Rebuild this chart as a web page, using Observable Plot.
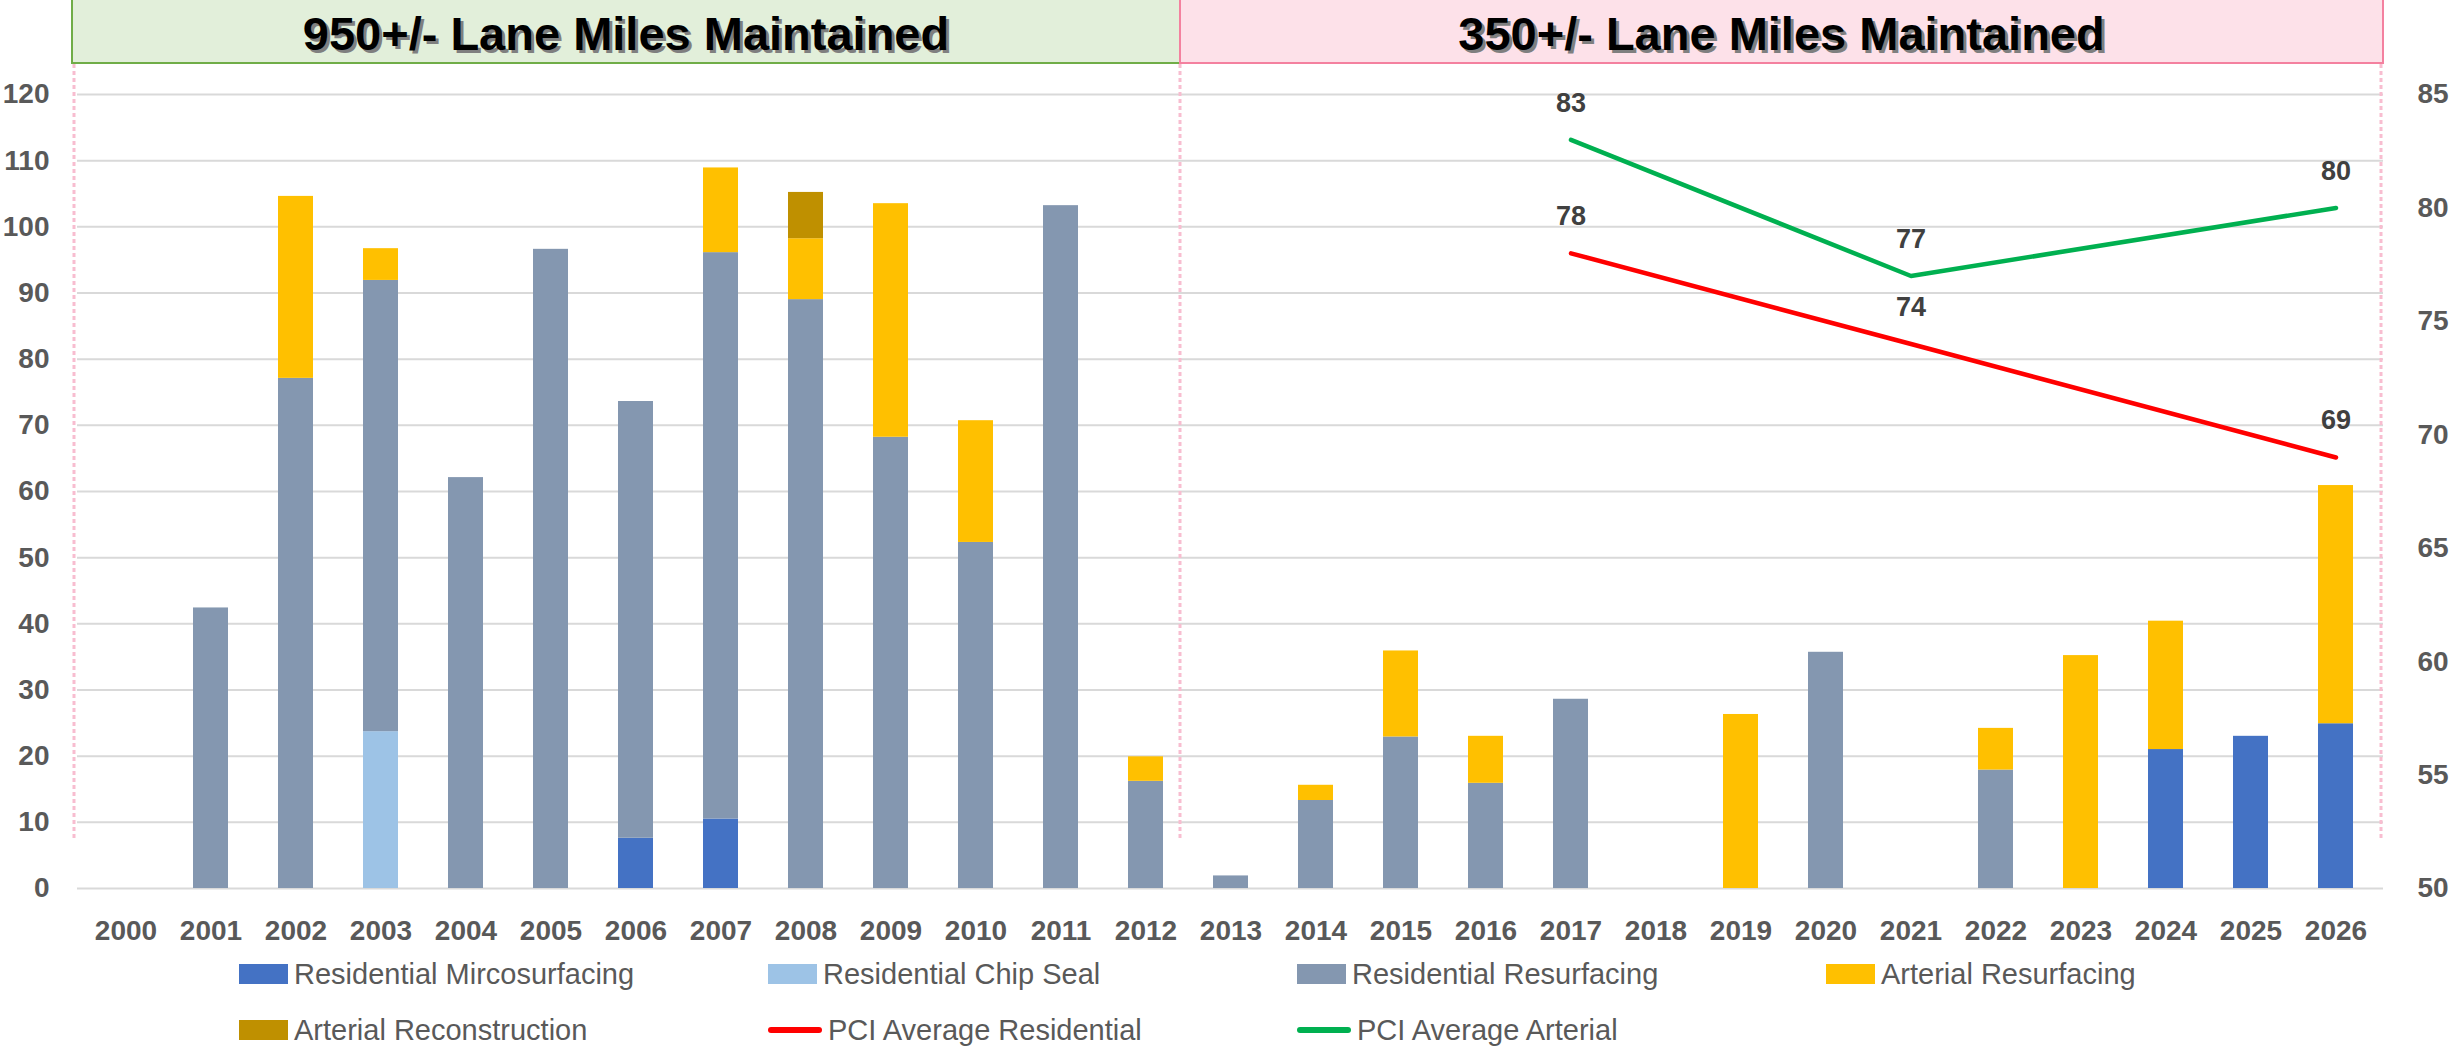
<!DOCTYPE html>
<html>
<head>
<meta charset="utf-8">
<script src="https://cdn.jsdelivr.net/npm/d3@7"></script>
<script src="https://cdn.jsdelivr.net/npm/@observablehq/plot@0.6"></script>
<style>
html, body { margin: 0; padding: 0; background: #fff; width: 2458px; height: 1053px; overflow: hidden; }
#wrap { position: relative; width: 2458px; height: 1053px; font-family: "Liberation Sans", Arial, sans-serif; }
#chart svg { display: block; }
#legend { position: absolute; left: 0; top: 946px; display: grid; grid-template-columns: repeat(4, 529px); grid-auto-rows: 56px; padding-left: 239px; }
.item { display: flex; align-items: center; gap: 6px; font-size: 29px; color: #595959; white-space: nowrap; }
.sw { width: 49px; height: 20px; flex: none; }
.ln { width: 54px; height: 6px; border-radius: 3px; flex: none; }
</style>
</head>
<body>
<div id="wrap"><div id="chart"></div><div id="legend"></div></div>
<script>
// ---------- data ----------
const years = ["2000","2001","2002","2003","2004","2005","2006","2007","2008","2009","2010","2011","2012",
  "2013","2014","2015","2016","2017","2018","2019","2020","2021","2022","2023","2024","2025","2026"];
const resMicrosurfacing = [0,0,0,0,0,0,7.6,10.5,0,0,0,0,0,0,0,0,0,0,0,0,0,0,0,0,21.0,23.0,24.9];
const resChipSeal       = [0,0,0,23.7,0,0,0,0,0,0,0,0,0,0,0,0,0,0,0,0,0,0,0,0,0,0,0];
const resResurfacing    = [0,42.4,77.1,68.2,62.1,96.6,66.0,85.6,89.0,68.2,52.3,103.2,16.2,1.9,13.3,22.9,15.9,28.6,0,0,35.7,0,17.9,0,0,0,0];
const artResurfacing    = [0,0,27.5,4.8,0,0,0,12.8,9.2,35.3,18.4,0,3.7,0,2.3,13.0,7.1,0,0,26.3,0,0,6.3,35.2,19.4,0,36.0];
const artReconstruction = [0,0,0,0,0,0,0,0,7.0,0,0,0,0,0,0,0,0,0,0,0,0,0,0,0,0,0,0];
const pciYears = ["2017","2021","2026"];
const pciResidential = [78,74,69];
const pciArterial = [83,77,80];
const leftTicks = [0,10,20,30,40,50,60,70,80,90,100,110,120];
const rightTicks = [50,55,60,65,70,75,80,85];
const sectionTitles = ["950+/- Lane Miles Maintained", "350+/- Lane Miles Maintained"];
const splitAfterYear = "2012";
const seriesNames = ["Residential Mircosurfacing","Residential Chip Seal","Residential Resurfacing","Arterial Resurfacing","Arterial Reconstruction"];
const lineNames = ["PCI Average Residential","PCI Average Arterial"];

// ---------- styles ----------
const seriesColors = ["#4472C4","#9DC3E6","#8497B0","#FFC000","#BF9000"];
const lineColors = ["#FF0000","#00B050"];
const FONT = "'Liberation Sans', Arial, sans-serif";

// ---------- build tables ----------
const barSeries = [resMicrosurfacing, resChipSeal, resResurfacing, artResurfacing, artReconstruction];
const bars = [];
barSeries.forEach((vals, s) => vals.forEach((v, i) => bars.push({year: years[i], value: v, series: seriesNames[s]})));

const right = d3.scaleLinear().domain([50, 85]).range([0, 120]);
const pciSets = [pciResidential, pciArterial].map((vals, s) =>
  vals.map((v, i) => ({year: pciYears[i], value: v, series: lineNames[s]})));
const allPci = pciSets.flat();

const W = 2458, H = 946, ML = 77, MR = 75, MT = 94, MB = 58;

const chart = Plot.plot({
  width: W, height: H,
  marginLeft: ML, marginRight: MR, marginTop: MT, marginBottom: MB,
  style: {fontFamily: FONT, background: "#fff", overflow: "visible"},
  x: {type: "band", domain: years, paddingInner: 0.59, paddingOuter: 0.3, label: null},
  y: {domain: [0, 120], label: null},
  color: {domain: seriesNames, range: seriesColors},
  marks: [
    Plot.gridY(leftTicks, {stroke: "#D9D9D9", strokeOpacity: 1, strokeWidth: 2}),
    Plot.barY(bars, {x: "year", y: "value", fill: "series"}),
    ...pciSets.map((set, s) => Plot.line(set, {
      x: "year", y: d => right(d.value), stroke: lineColors[s],
      strokeWidth: 4.5, strokeLinecap: "round", strokeLinejoin: "round"
    })),
    Plot.text(allPci, {
      x: "year", y: d => right(d.value), text: d => String(d.value), dy: -37,
      fontSize: 27, fontWeight: "bold", fill: "#404040", fontFamily: FONT
    }),
    Plot.axisY(leftTicks, {anchor: "left", tickSize: 0, tickPadding: 28, fontSize: 28,
      fontWeight: "bold", color: "#595959", label: null, fontFamily: FONT}),
    Plot.axisY(rightTicks.map(right), {anchor: "right", tickSize: 0, tickPadding: 34, fontSize: 28,
      fontWeight: "bold", color: "#595959", label: null, fontFamily: FONT,
      tickFormat: v => String(Math.round(right.invert(v)))}),
    Plot.axisX({anchor: "bottom", tickSize: 0, tickPadding: 32, fontSize: 28,
      fontWeight: "bold", color: "#595959", label: null, fontFamily: FONT})
  ]
});
document.getElementById("chart").appendChild(chart);

// ---------- section banners and dividers (positioned from the x scale) ----------
const xs = chart.scale("x");
const step = xs.apply(years[1]) - xs.apply(years[0]);
const bw = xs.bandwidth;
const splitX = xs.apply(splitAfterYear) + bw + (step - bw) * 0.34;
const frameL = ML, frameR = W - MR;
const svg = d3.select(chart);
const deco = svg.insert("g", ":first-child");
const banners = [
  {x0: frameL - 5, x1: splitX, fill: "#E2EFDA", stroke: "#70AD47", title: sectionTitles[0]},
  {x0: splitX, x1: frameR, fill: "#FDE1E9", stroke: "#F4819F", title: sectionTitles[1]}
];
banners.forEach(b => {
  deco.append("rect").attr("x", b.x0).attr("y", -3).attr("width", b.x1 - b.x0).attr("height", 66)
    .attr("fill", b.fill).attr("stroke", b.stroke).attr("stroke-width", 2);
  const cx = (b.x0 + b.x1) / 2;
  deco.append("text").attr("x", cx + 3).attr("y", 53).attr("text-anchor", "middle")
    .attr("font-family", FONT).attr("font-weight", "bold").attr("font-size", 47)
    .attr("fill", "#7F7F7F").text(b.title);
  deco.append("text").attr("x", cx).attr("y", 50).attr("text-anchor", "middle")
    .attr("font-family", FONT).attr("font-weight", "bold").attr("font-size", 47)
    .attr("fill", "#000").text(b.title);
});
const divG = svg.append("g");
[frameL - 3, splitX, frameR - 2].forEach(x => {
  divG.append("line").attr("x1", x).attr("x2", x).attr("y1", 64).attr("y2", 840)
    .attr("stroke", "#F8BDD0").attr("stroke-width", 3).attr("stroke-dasharray", "4 3");
});

// ---------- legend ----------
const legend = document.getElementById("legend");
const legendItems = [
  ...seriesNames.slice(0, 4).map((n, i) => ({name: n, color: seriesColors[i], kind: "box"})),
  {name: seriesNames[4], color: seriesColors[4], kind: "box"},
  ...lineNames.map((n, i) => ({name: n, color: lineColors[i], kind: "line"}))
];
legendItems.forEach(it => {
  const d = document.createElement("div");
  d.className = "item";
  const sw = document.createElement("span");
  sw.className = it.kind === "box" ? "sw" : "ln";
  sw.style.background = it.color;
  const t = document.createElement("span");
  t.textContent = it.name;
  d.appendChild(sw); d.appendChild(t);
  legend.appendChild(d);
});
</script>
</body>
</html>
